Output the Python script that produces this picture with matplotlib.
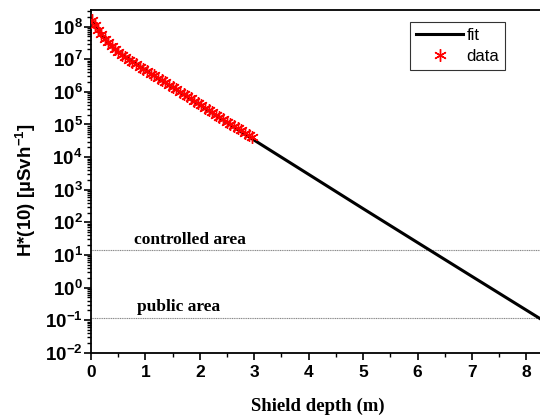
import math
import matplotlib
matplotlib.use("Agg")
import matplotlib.pyplot as plt
from matplotlib.ticker import LogLocator, FixedLocator, FuncFormatter, MultipleLocator, NullFormatter

plt.rcParams['font.family'] = ['Liberation Sans', 'DejaVu Sans']
plt.rcParams['mathtext.fontset'] = 'custom'
plt.rcParams['mathtext.bf'] = 'Liberation Sans:bold'
plt.rcParams['mathtext.rm'] = 'Liberation Sans'

# fit curve
fit_x = [0.0, 0.1, 0.2, 0.3, 0.4, 0.5, 0.7, 1.0, 1.5, 2.0, 2.5, 3.0, 4.0, 5.0, 6.0, 7.0, 8.25]
fit_y = [1.78e8, 1.0e8, 5.6e7, 3.4e7, 2.3e7, 1.66e7, 1.0e7, 4.6e6, 1.38e6, 4.0e5,
         1.15e5, 3.3e4, 2.95e3, 263, 24, 2.2, 0.112]

data_x = [0.02, 0.07, 0.13, 0.19, 0.25, 0.31, 0.38, 0.44, 0.50, 0.57, 0.63, 0.70,
          0.76, 0.83, 0.90, 0.96, 1.03, 1.10, 1.16, 1.23, 1.30, 1.36, 1.43, 1.50,
          1.56, 1.63, 1.70, 1.76, 1.83, 1.90, 1.96, 2.03, 2.10, 2.16, 2.23, 2.30,
          2.36, 2.43, 2.50, 2.56, 2.63, 2.70, 2.76, 2.83, 2.90, 2.96]
data_y = [1.58e8, 1.12e8, 7.9e7, 5.75e7, 4.27e7, 3.31e7, 2.57e7, 2.04e7, 1.70e7, 1.38e7,
          1.17e7, 9.8e6, 8.5e6, 7.2e6, 5.9e6, 5.1e6, 4.3e6, 3.6e6, 3.2e6, 2.7e6,
          2.3e6, 2.0e6, 1.66e6, 1.41e6, 1.23e6, 1.02e6, 8.7e5, 7.6e5, 6.3e5, 5.2e5,
          4.6e5, 3.9e5, 3.2e5, 2.8e5, 2.4e5, 2.0e5, 1.74e5, 1.48e5, 1.23e5, 1.07e5,
          9.1e4, 7.6e4, 6.6e4, 5.6e4, 4.7e4, 4.1e4]

# reference levels
level_values = [14, 0.12]
level_labels = ['controlled area', 'public area']
level_label_x = [1.82, 1.61]

x_ticks = [0, 1, 2, 3, 4, 5, 6, 7, 8]
y_exponents = [-2, -1, 0, 1, 2, 3, 4, 5, 6, 7, 8]

fig = plt.figure(figsize=(5.40, 4.17), dpi=100)
ax = fig.add_axes([0.1685, 0.154, 0.8315 + 0.01, 0.822])

ax.set_yscale('log')
ax.set_xlim(0, 8.25 + 0.1)
ax.set_ylim(1e-2, 10 ** 8.51)

for val, lab, lx in zip(level_values, level_labels, level_label_x):
    ax.axhline(val, color='#888888', lw=0.8, ls=(0, (1, 0.6)), zorder=1)
    ax.text(lx, val * 1.2, lab, family='Liberation Serif', fontweight='bold',
            fontsize=12.5, ha='center', va='bottom')

ax.plot(fit_x, fit_y, color='black', lw=2.2, label='fit', zorder=3)
ax.plot(data_x, data_y, ls='none', marker=(6, 2, 0), ms=9, mew=1.0,
        color='red', label='data', zorder=4)

ax.xaxis.set_major_locator(FixedLocator(x_ticks))
ax.xaxis.set_minor_locator(MultipleLocator(0.5))
ax.yaxis.set_major_locator(FixedLocator([10.0 ** e for e in y_exponents]))
ax.yaxis.set_minor_locator(LogLocator(base=10, subs=range(2, 10), numticks=30))
ax.yaxis.set_minor_formatter(NullFormatter())
ax.yaxis.set_major_formatter(FuncFormatter(
    lambda v, p: r'$\mathbf{10^{%d}}$' % round(math.log10(v))))

ax.tick_params(axis='both', which='major', direction='out', length=5, width=1.2)
ax.tick_params(axis='both', which='minor', direction='out', length=3, width=1.0)
ax.tick_params(axis='x', labelsize=12.5, pad=4)
ax.tick_params(axis='y', labelsize=13.5, pad=1)
for lab in ax.get_xticklabels():
    lab.set_fontweight('bold')

for s in ['left', 'bottom', 'top']:
    ax.spines[s].set_linewidth(1.3)
ax.spines['right'].set_visible(False)

ax.set_xlabel('Shield depth (m)', family='Liberation Serif', fontweight='bold',
              fontsize=13.5)
ax.xaxis.set_label_coords(0.5, -0.13)
ax.set_ylabel(r'H*(10) [µSvh$^{\mathbf{-1}}$]', fontweight='bold', fontsize=13.5)
ax.yaxis.set_label_coords(-0.117, 0.475)

leg = ax.legend(loc='upper left', bbox_to_anchor=(0.703, 0.965), fontsize=12,
                frameon=True, fancybox=False, edgecolor='black', handlelength=2.8,
                handletextpad=0.2, borderpad=0.35, labelspacing=0.35, borderaxespad=0)
leg.get_frame().set_linewidth(0.8)

fig.savefig('out.png', dpi=100)
